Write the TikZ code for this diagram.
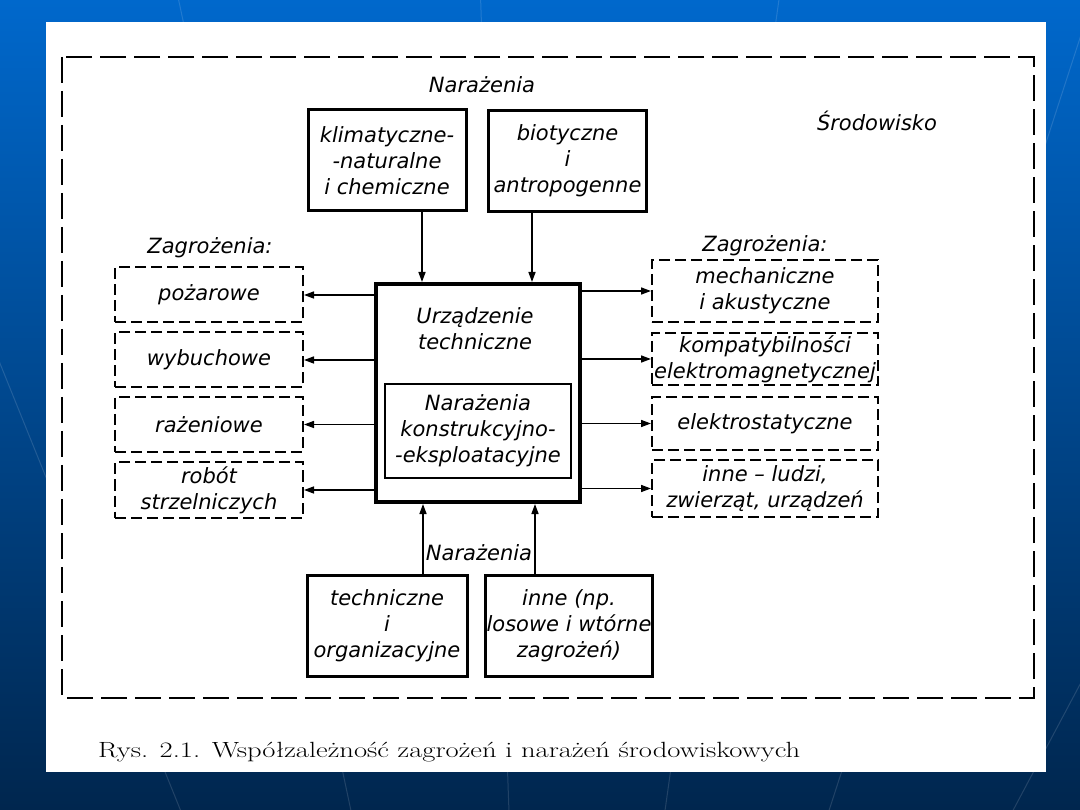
\documentclass[tikz,border=0pt]{standalone}
\usepackage{fontspec}
\usepackage{graphicx}
\usetikzlibrary{arrows.meta}
\newfontfamily\rysfont{DejaVu Sans}
\definecolor{tlogora}{RGB}{0,104,204}
\definecolor{tlodol}{RGB}{0,38,78}

\tikzset{
  napis/.style={font=\rysfont\itshape\fontsize{21}{26}\selectfont, align=center, inner sep=1pt},
  narbox/.style={napis, draw, line width=3pt, minimum width=158pt, minimum height=101pt},
  zagbox/.style={napis, draw, line width=2pt, dash pattern=on 11pt off 5pt, minimum height=55pt},
  strz/.style={line width=1.5pt, -{Triangle[length=10pt, width=7pt]}},
  linia/.style={white, opacity=0.13, line width=1pt}
}

\begin{document}
\begin{tikzpicture}[x=1pt, y=-1pt]
    \useasboundingbox (0,0) rectangle (1080,810);

    % tlo slajdu
    \shade[top color=tlogora, bottom color=tlodol] (0,0) rectangle (1080,810);
    \foreach \a in {228,238,...,312}
        \draw[linia] (540,1700) -- ++(\a:2200);
    \fill[white] (46,22) rectangle (1046,772);

    % Srodowisko (ramka)
    \draw[line width=2pt, dash pattern=on 26pt off 8pt] (62,57) rectangle (1034,698);
    \node[napis] (srod) at (877,121) {Środowisko};

    % narazenia od gory
    \node[napis] (narg) at (482,85) {Narażenia};
    \node[narbox] (klim) at (387,160.5) {klimatyczne-\\-naturalne\\i chemiczne};
    \node[narbox] (bio) at (567.5,161) {biotyczne\\i\\antropogenne};

    % urzadzenie techniczne
    \node[draw, line width=4pt, minimum width=204pt, minimum height=218pt] (urz) at (478,393) {};
    \node[napis] (urzt) at (475,329) {Urządzenie\\techniczne};
    \node[napis, draw, line width=1.3pt, minimum width=186pt, minimum height=94pt] (konstr) at (478,431)
        {Narażenia\\konstrukcyjno-\\-eksploatacyjne};

    % zagrozenia z lewej
    \node[napis] (zagl) at (210,248) {Zagrożenia:};
    \node[zagbox, minimum width=188pt] (poz) at (209,295) {pożarowe};
    \node[zagbox, minimum width=188pt] (wyb) at (209,360) {wybuchowe};
    \node[zagbox, minimum width=188pt] (raz) at (209,424.5) {rażeniowe};
    \node[zagbox, minimum width=188pt] (rob) at (209,490) {robót\\strzelniczych};

    % zagrozenia z prawej
    \node[napis] (zagp) at (765,246) {Zagrożenia:};
    \node[zagbox, minimum width=226pt, minimum height=62pt] (mech) at (765,291) {mechaniczne\\i akustyczne};
    \node[zagbox, minimum width=226pt, minimum height=52pt, inner sep=0pt] (komp) at (765,359)
        {kompatybilności\\elektromagnetycznej};
    \node[zagbox, minimum width=226pt, minimum height=53pt] (elek) at (765,423.5) {elektrostatyczne};
    \node[zagbox, minimum width=226pt, minimum height=57pt] (inne) at (765,488.5) {inne – ludzi,\\zwierząt, urządzeń};

    % narazenia od dolu
    \node[narbox, minimum width=160pt] (tech) at (387,626) {techniczne\\i\\organizacyjne};
    \node[narbox] (los) at (569,626) {inne (np.\\losowe i wtórne\\zagrożeń)};
    \node[napis] (nard) at (479,553) {Narażenia};

    % strzalki
    \coordinate (g1) at ([xshift=-56pt]urz.north);
    \coordinate (g2) at ([xshift=54pt]urz.north);
    \draw[strz] (klim.south -| g1) -- (g1);
    \draw[strz] (bio.south -| g2) -- (g2);
    \coordinate (d1) at ([xshift=-55pt]urz.south);
    \coordinate (d2) at ([xshift=57pt]urz.south);
    \draw[strz] (tech.north -| d1) -- (d1);
    \draw[strz] (los.north -| d2) -- (d2);
    \foreach \z in {poz,wyb,raz,rob}
        \draw[strz] (urz.west |- \z.east) -- (\z.east);
    \foreach \z in {mech,komp,elek,inne}
        \draw[strz] (urz.east |- \z.west) -- (\z.west);

    % podpis
    \node[anchor=west, inner sep=0pt, font=\fontsize{22}{26}\selectfont] (podpis) at (98,752)
        {\scalebox{1.3}[1]{Rys. 2.1. Współzależność zagrożeń i narażeń środowiskowych}};
\end{tikzpicture}
\end{document}
